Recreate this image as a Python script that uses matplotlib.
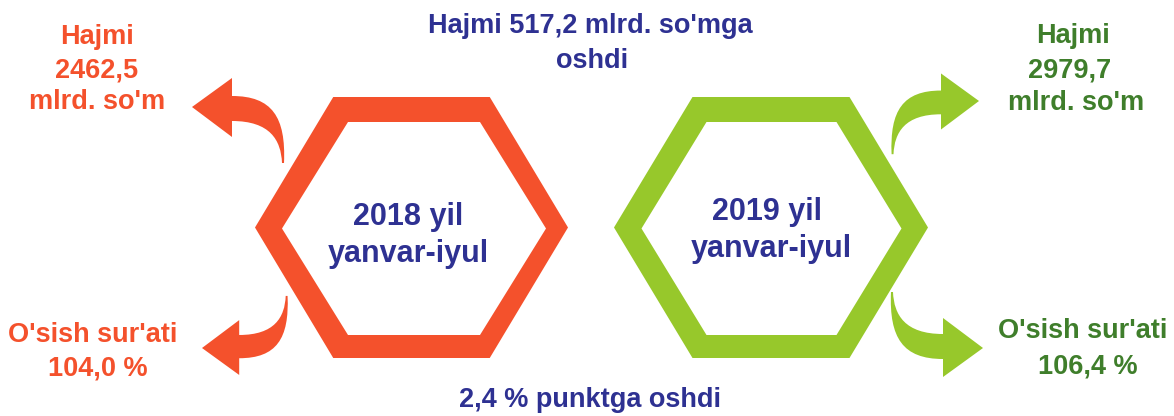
import matplotlib.pyplot as plt
from matplotlib.path import Path
from matplotlib.patches import PathPatch, Polygon

plt.rcParams['font.family'] = ['Liberation Sans', 'DejaVu Sans']

# data
years = ['2018', '2019']
period = 'yanvar-iyul'
volumes = [2462.5, 2979.7]      # mlrd. so'm
growth = [104.0, 106.4]         # %

ORANGE = '#F4512C'
GREEN = '#97C82B'
GREEN_TXT = '#3F7E2B'
NAVY = '#2E3192'


def fmt(v):
    return f'{v:.1f}'.replace('.', ',')


def hexagon(ax, cx, cy, rx, h, color):
    pts = [(cx - rx, cy), (cx - rx / 2, cy - h), (cx + rx / 2, cy - h),
           (cx + rx, cy), (cx + rx / 2, cy + h), (cx - rx / 2, cy + h)]
    ax.add_patch(Polygon(pts, closed=True, facecolor=color, edgecolor='none'))


def curved_arrow(ax, tip, sx, sy, s, color):
    # template: tip at origin pointing left, tail down-right
    verts = [(0, 0), (40, -29), (40, -11),
             (80, -11), (94, 10), (92, 56),
             (90, 56),
             (89, 33), (78, 14), (40, 14),
             (40, 30), (0, 0)]
    codes = [Path.MOVETO, Path.LINETO, Path.LINETO,
             Path.CURVE4, Path.CURVE4, Path.CURVE4,
             Path.LINETO,
             Path.CURVE4, Path.CURVE4, Path.CURVE4,
             Path.LINETO, Path.CLOSEPOLY]
    pts = [(tip[0] + sx * s * x, tip[1] + sy * s * y) for x, y in verts]
    ax.add_patch(PathPatch(Path(pts, codes), facecolor=color, edgecolor='none'))


fig = plt.figure(figsize=(11.74, 4.16), dpi=100)
ax = fig.add_axes([0, 0, 1, 1])
ax.set_xlim(0, 1174)
ax.set_ylim(416, 0)
ax.axis('off')

# hexagons
hexagon(ax, 411.5, 227.5, 156.5, 130.5, ORANGE)
hexagon(ax, 414, 228.5, 132, 106.5, 'white')
hexagon(ax, 771, 227.5, 157, 130.5, GREEN)
hexagon(ax, 771.5, 228.5, 130, 106.5, 'white')

# arrows
curved_arrow(ax, (192, 107), 1, 1, 1.0, ORANGE)
curved_arrow(ax, (202, 348), 1, -1, 0.93, ORANGE)
curved_arrow(ax, (979, 101), -1, 1, 0.95, GREEN)
curved_arrow(ax, (983, 348), -1, -1, 1.0, GREEN)

kw = dict(ha='center', va='baseline', fontweight='bold')

# period labels inside hexagons
ax.text(408, 225, f'{years[0]} yil', color=NAVY, fontsize=22, **kw)
ax.text(408, 262, period, color=NAVY, fontsize=22, **kw)
ax.text(767, 220, f'{years[1]} yil', color=NAVY, fontsize=22, **kw)
ax.text(771, 257, period, color=NAVY, fontsize=22, **kw)

# volumes
ax.text(97, 44, 'Hajmi', color=ORANGE, fontsize=19.5, **kw)
ax.text(97, 77, fmt(volumes[0]), color=ORANGE, fontsize=19.5, **kw)
ax.text(97, 109, "mlrd. so'm", color=ORANGE, fontsize=19.5, **kw)
ax.text(1073, 43, 'Hajmi', color=GREEN_TXT, fontsize=19.5, **kw)
ax.text(1070, 77, fmt(volumes[1]), color=GREEN_TXT, fontsize=19.5, **kw)
ax.text(1076, 110, "mlrd. so'm", color=GREEN_TXT, fontsize=19.5, **kw)

# growth rates
ax.text(93, 342, "O'sish sur'ati", color=ORANGE, fontsize=19.5, **kw)
ax.text(98, 375, f'{fmt(growth[0])} %', color=ORANGE, fontsize=19.5, **kw)
ax.text(1083, 338, "O'sish sur'ati", color=GREEN_TXT, fontsize=19.5, **kw)
ax.text(1088, 373, f'{fmt(growth[1])} %', color=GREEN_TXT, fontsize=19.5, **kw)

# differences
ax.text(590, 33, f"Hajmi {fmt(volumes[1] - volumes[0])} mlrd. so'mga",
        color=NAVY, fontsize=19.5, **kw)
ax.text(592, 68, 'oshdi', color=NAVY, fontsize=19.5, **kw)
ax.text(590, 407, f'{fmt(growth[1] - growth[0])} % punktga oshdi',
        color=NAVY, fontsize=19.5, **kw)

fig.savefig('out.png', dpi=100)
